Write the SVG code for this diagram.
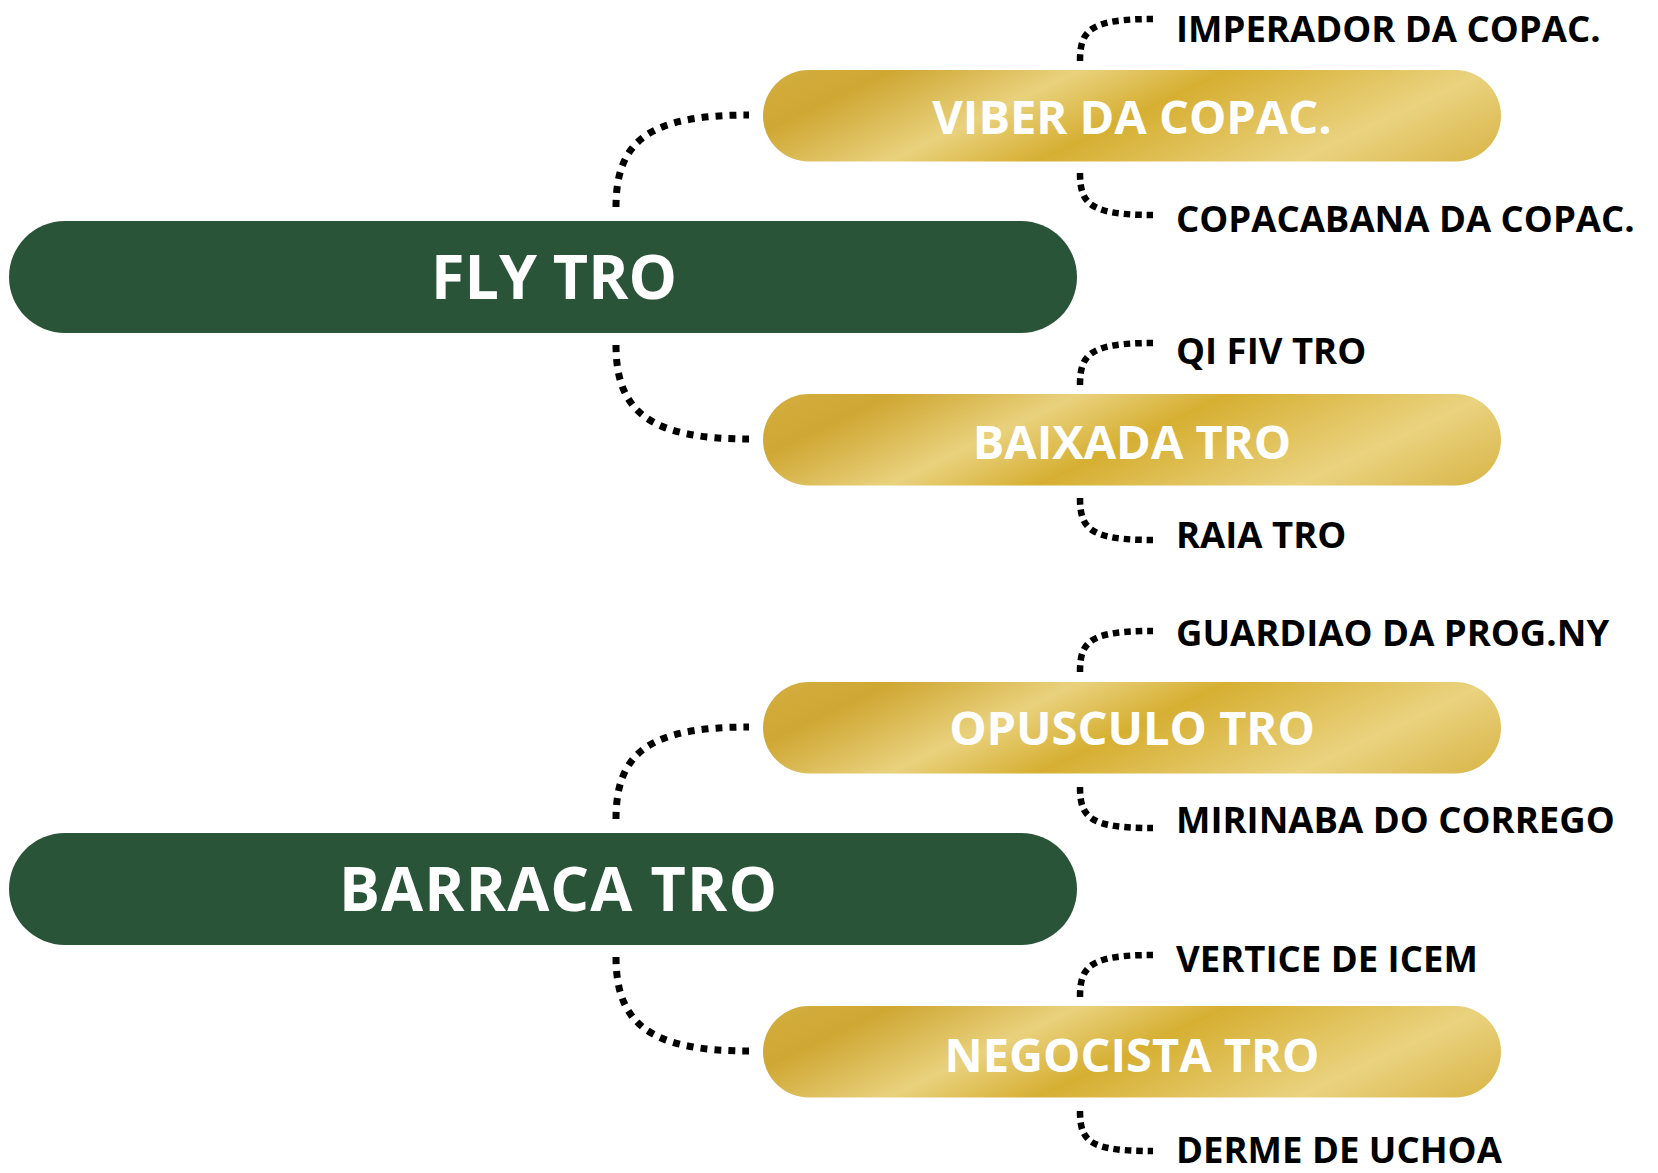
<svg xmlns="http://www.w3.org/2000/svg" width="1658" height="1173" viewBox="0 0 1658 1173">
  <defs>
    <linearGradient id="gold" gradientUnits="userSpaceOnUse" x1="0" y1="0" x2="173" y2="362">
      <stop offset="0" stop-color="#D3AE40"/>
      <stop offset="0.14" stop-color="#CFA733"/>
      <stop offset="0.34" stop-color="#E9D17D"/>
      <stop offset="0.5" stop-color="#D6AF32"/>
      <stop offset="0.78" stop-color="#EAD27F"/>
      <stop offset="1" stop-color="#D8B446"/>
    </linearGradient>
    <style>
      .main { fill: #2A5438; }
      .gold { fill: url(#gold); }
      .mainTxt { font-family: "Open Sans", "Noto Sans", sans-serif; font-weight: 700; font-size: 61px; fill: #FFFFFF; text-anchor: middle; }
      .goldTxt { font-family: "Open Sans", "Noto Sans", sans-serif; font-weight: 700; font-size: 47px; fill: #FFFFFF; text-anchor: middle; }
      .subTxt { font-family: "Open Sans", "Noto Sans", sans-serif; font-weight: 700; font-size: 36.5px; fill: #000000; }
      .conn { fill: none; stroke: #000000; stroke-width: 7; stroke-dasharray: 7 7; }
      .sub { fill: none; stroke: #000000; stroke-width: 6.5; stroke-dasharray: 6.5 5; }
    </style>
  </defs>

  <g id="connectors">
    <path class="conn" d="M616,207 C616,140 650,115 749,115"/>
    <path class="conn" d="M616,345 C616,412 650,439 749,439"/>
    <path class="conn" d="M616,819 C616,752 650,727 749,727"/>
    <path class="conn" d="M616,957 C616,1024 650,1051 749,1051"/>

    <path class="sub" d="M1080,61 C1080,30 1090,19 1153,19"/>
    <path class="sub" d="M1080,173 C1080,204 1090,215 1153,215"/>
    <path class="sub" d="M1080,385 C1080,354 1090,343 1153,343"/>
    <path class="sub" d="M1080,498 C1080,529 1090,540 1153,540"/>
    <path class="sub" d="M1080,672 C1080,641 1090,631 1153,631"/>
    <path class="sub" d="M1080,787 C1080,818 1090,828 1153,828"/>
    <path class="sub" d="M1080,997 C1080,966 1090,955 1153,955"/>
    <path class="sub" d="M1080,1111 C1080,1142 1090,1151 1153,1151"/>
  </g>

  <g id="node-fly-tro">
    <rect class="main" x="9" y="221" width="1068" height="112" rx="56" ry="56"/>
    <text class="mainTxt" x="554" y="298.5">FLY TRO</text>
  </g>
  <g id="node-barraca-tro">
    <rect class="main" x="9" y="833" width="1068" height="112" rx="56" ry="56"/>
    <text class="mainTxt" x="558" y="910.5" textLength="438" lengthAdjust="spacing">BARRACA TRO</text>
  </g>

  <g id="node-viber" transform="translate(763,70)">
    <rect class="gold" x="0" y="0" width="738" height="91.5" rx="45.75" ry="45.75"/>
    <text class="goldTxt" x="369" y="64">VIBER DA COPAC.</text>
  </g>
  <g id="node-baixada" transform="translate(763,394)">
    <rect class="gold" x="0" y="0" width="738" height="91.5" rx="45.75" ry="45.75"/>
    <text class="goldTxt" x="369" y="65.3">BAIXADA TRO</text>
  </g>
  <g id="node-opusculo" transform="translate(763,682)">
    <rect class="gold" x="0" y="0" width="738" height="91.5" rx="45.75" ry="45.75"/>
    <text class="goldTxt" x="369" y="63">OPUSCULO TRO</text>
  </g>
  <g id="node-negocista" transform="translate(763,1006)">
    <rect class="gold" x="0" y="0" width="738" height="91.5" rx="45.75" ry="45.75"/>
    <text class="goldTxt" x="369" y="65.7">NEGOCISTA TRO</text>
  </g>

  <g id="node-imperador"><text class="subTxt" x="1176" y="41.5">IMPERADOR DA COPAC.</text></g>
  <g id="node-copacabana"><text class="subTxt" x="1176" y="232">COPACABANA DA COPAC.</text></g>
  <g id="node-qi-fiv"><text class="subTxt" x="1176" y="364">QI FIV TRO</text></g>
  <g id="node-raia"><text class="subTxt" x="1176" y="548">RAIA TRO</text></g>
  <g id="node-guardiao"><text class="subTxt" x="1176" y="645.5">GUARDIAO DA PROG.NY</text></g>
  <g id="node-mirinaba"><text class="subTxt" x="1176" y="833">MIRINABA DO CORREGO</text></g>
  <g id="node-vertice"><text class="subTxt" x="1176" y="971.5">VERTICE DE ICEM</text></g>
  <g id="node-derme"><text class="subTxt" x="1176" y="1163">DERME DE UCHOA</text></g>
</svg>
